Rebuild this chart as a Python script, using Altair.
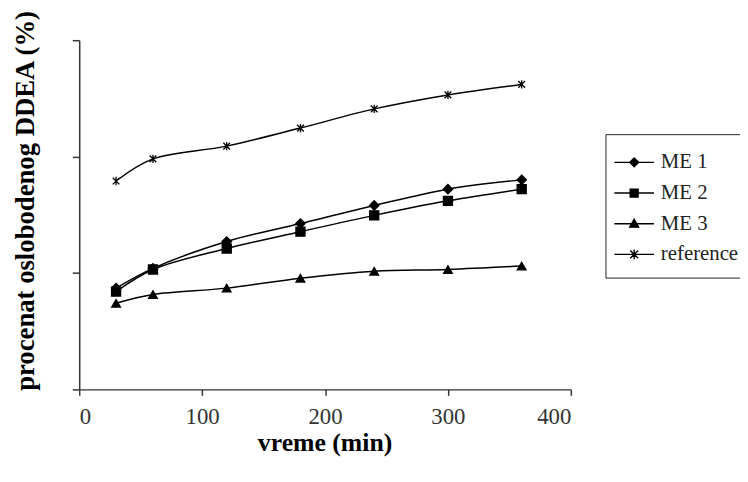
import altair as alt
import pandas as pd

times = [30, 60, 120, 180, 240, 300, 360]
me1 = [8.7, 10.4, 12.7, 14.25, 15.8, 17.2, 18.0]
me2 = [8.4, 10.3, 12.1, 13.55, 14.95, 16.2, 17.2]
me3 = [7.4, 8.15, 8.7, 9.55, 10.15, 10.3, 10.6]
ref = [17.9, 19.8, 20.9, 22.45, 24.1, 25.3, 26.2]
series_names = ["ME 1", "ME 2", "ME 3", "reference"]
x_ticks = [0, 100, 200, 300, 400]
y_ticks = [0, 10, 20, 30]

rows = []
for name, vals in zip(series_names, [me1, me2, me3, ref]):
    for t, v in zip(times, vals):
        rows.append({"t": t, "v": v, "series": name})
df = pd.DataFrame(rows)

FONT = "Liberation Serif"

x_enc = alt.X("t:Q", scale=alt.Scale(domain=[0, 400], nice=False),
              axis=alt.Axis(values=x_ticks, title="vreme (min)", grid=False,
                            tickSize=6, labelPadding=10, labelFontSize=23,
                            labelFont=FONT, labelColor="#333",
                            titleFont=FONT, titleFontSize=26, titleFontWeight="bold",
                            titleColor="black", titleX=248, titleY=54,
                            titleBaseline="middle", domainColor="#333",
                            tickColor="#333", domainWidth=1.5, tickWidth=1.5))
y_enc = alt.Y("v:Q", scale=alt.Scale(domain=[0, 30], nice=False),
              axis=alt.Axis(values=y_ticks, labels=False, grid=False, tickSize=7,
                            title="procenat oslobodenog DDEA (%)",
                            titleFont=FONT, titleFontSize=27, titleFontWeight="bold",
                            titleColor="black", titleX=-54, titleY=162,
                            titleBaseline="middle", domainColor="#333",
                            tickColor="#333", domainWidth=1.5, tickWidth=1.5))

base = alt.Chart(df)

lines = base.mark_line(color="black", strokeWidth=1.5, interpolate="catmull-rom").encode(
    x=x_enc, y=y_enc, detail="series:N")

point_shapes = ["diamond", "square", "triangle-up",
                "M-0.8,-0.8L0.8,0.8M-0.8,0.8L0.8,-0.8M0,-1L0,1"]
point_sizes = [90, 72, 90, 110]
points = base.mark_point(filled=True, fill="black", stroke="black", strokeWidth=1.3,
                         opacity=1).encode(
    x=x_enc, y=y_enc,
    shape=alt.Shape("series:N", scale=alt.Scale(domain=series_names, range=point_shapes),
                    legend=None),
    size=alt.Size("series:N", scale=alt.Scale(domain=series_names, range=point_sizes),
                  legend=None),
)

legend_shapes = [
    "M-2,0L2,0M0,-0.45L0.45,0L0,0.45L-0.45,0Z",
    "M-2,0L2,0M-0.4,-0.4L0.4,-0.4L0.4,0.4L-0.4,0.4Z",
    "M-2,0L2,0M0,-0.45L0.45,0.35L-0.45,0.35Z",
    "M-2,0L2,0M-0.4,-0.4L0.4,0.4M-0.4,0.4L0.4,-0.4M0,-0.5L0,0.5",
]
legend_layer = base.transform_filter("false").mark_point(
    filled=False, fill="black", stroke="black", strokeWidth=1.4, size=400,
    opacity=1).encode(
    x=x_enc, y=y_enc,
    shape=alt.Shape("series:N",
                    scale=alt.Scale(domain=series_names, range=legend_shapes),
                    legend=alt.Legend(title=" ", titleFontSize=5, titlePadding=0,
                                      orient="none", legendX=532, legendY=95,
                                      symbolSize=400, symbolStrokeWidth=1.4,
                                      symbolOffset=10, labelOffset=16, clipHeight=31,
                                      rowPadding=0, padding=8,
                                      labelFont=FONT, labelFontSize=21, labelColor="#222",
                                      strokeColor="#222", fillColor="white",
                                      labelLimit=200)),
)

chart = alt.layer(lines, points, legend_layer).resolve_scale(
    shape="independent", size="independent"
).properties(
    width=497, height=353,
    autosize=alt.AutoSizeParams(type="none"),
    padding={"left": 72, "top": 30, "right": 171, "bottom": 83},
).configure_view(stroke=None)

chart.save("out.html", embed_options={"renderer": "svg", "actions": False})
